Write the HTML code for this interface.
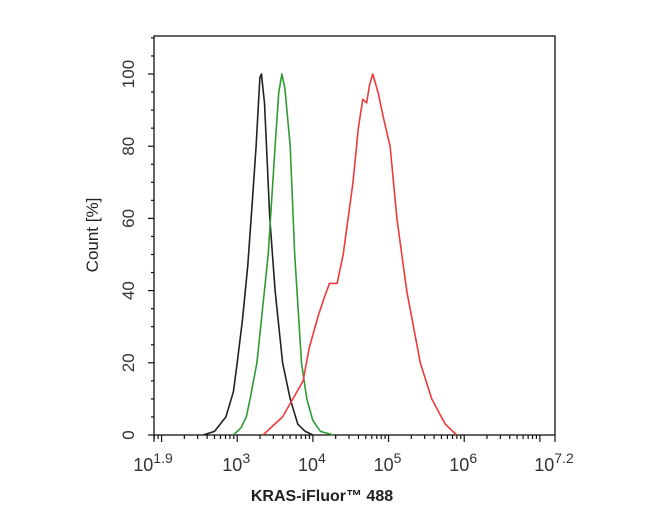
<!DOCTYPE html>
<html><head><meta charset="utf-8"><style>
body{margin:0;background:#fff;}
svg{display:block;font-family:"Liberation Sans",sans-serif;}
</style></head><body>
<svg id="chart" width="650" height="520">
<rect x="154" y="36" width="401" height="399" fill="none" stroke="#111" stroke-width="1.3"/>
<g id="axes"></g>
<g id="series"></g>
<text x="0" y="0" transform="translate(98,235) rotate(-90)" text-anchor="middle" font-size="17" fill="#222">Count [%]</text>
<text x="322" y="501" text-anchor="middle" font-size="16" font-weight="bold" fill="#222">KRAS-iFluor™ 488</text>
</svg>
<script>
const xMin=1.9, xMax=7.2, yMin=0, yMax=110.5;
const yTicks=[0,20,40,60,80,100];
const xTickLabels=[["10","1.9",1.9],["10","3",3],["10","4",4],["10","5",5],["10","6",6],["10","7.2",7.2]];
const blackX=[2.55,2.7,2.85,2.95,3.0,3.07,3.14,3.2,3.25,3.3,3.32,3.36,3.43,3.5,3.6,3.7,3.8,3.9,4.0];
const blackY=[0,1,5,12,20,32,47,65,80,99,100,92,60,40,20,10,3,1,0];
const greenX=[2.95,3.05,3.12,3.17,3.26,3.35,3.41,3.5,3.55,3.59,3.63,3.7,3.76,3.85,3.92,4.0,4.1,4.27];
const greenY=[0,2,5,10,20,38,50,80,95,100,96,80,50,20,10,4,1,0];
const redX=[3.34,3.6,3.87,3.95,4.07,4.15,4.22,4.32,4.4,4.53,4.6,4.66,4.71,4.75,4.79,4.86,4.93,5.02,5.11,5.24,5.42,5.57,5.75,5.9];
const redY=[0,5,15,24,33,38,42,42,50,70,85,93,92,97,100,95,88,80,60,40,20,10,3,0];
const L=154,R=555,T=36,B=435;
const yTop=74;
function sx(v){return L+(v-xMin)/(xMax-xMin)*(R-L);}
function sy(v){return B-(v-yMin)/100*(B-yTop);}
const NS="http://www.w3.org/2000/svg";
const axes=document.getElementById('axes');
function ln(x1,y1,x2,y2,name){const e=document.createElementNS(NS,'line');e.setAttribute('x1',x1);e.setAttribute('y1',y1);e.setAttribute('x2',x2);e.setAttribute('y2',y2);e.setAttribute('stroke','#111');e.setAttribute('stroke-width','1.2');


axes.appendChild(e);}
for(let v=0;v<=110;v+=5){const major=v%20===0&&v<=100;ln(L-(major?6:3),sy(v),L,sy(v),major?'y-major-tick':'y-minor-tick');}
yTicks.forEach(v=>{const t=document.createElementNS(NS,'text');t.setAttribute('transform',`translate(134,${sy(v)}) rotate(-90)`);t.setAttribute('text-anchor','middle');t.setAttribute('font-size','17');t.setAttribute('fill','#333');t.textContent=v;


axes.appendChild(t);});
ln(sx(1.9),B,sx(1.9),B+7,'x-major-tick');ln(sx(7.2),B,sx(7.2),B+7,'x-major-tick');
for(let d=1;d<=7;d++){for(let m=1;m<10;m++){const v=d+Math.log10(m);if(v<xMin-1e-9||v>xMax+1e-9)continue;const major=m===1;ln(sx(v),B,sx(v),B+(major?7:4),major?'x-major-tick':'x-minor-tick');}}
xTickLabels.forEach(a=>{const t=document.createElementNS(NS,'text');t.setAttribute('x',sx(a[2])-1);t.setAttribute('y',471);t.setAttribute('text-anchor','middle');t.setAttribute('font-size','18');t.setAttribute('fill','#333');
t.innerHTML=a[0]+'<tspan dy="-8" font-size="14">'+a[1]+'</tspan>';


axes.appendChild(t);});
const ser=document.getElementById('series');
function draw(xs,ys,color,name){const p=document.createElementNS(NS,'path');p.setAttribute('d',xs.map((x,i)=>(i?'L':'M')+sx(x).toFixed(1)+','+sy(ys[i]).toFixed(1)).join(''));p.setAttribute('fill','none');p.setAttribute('stroke',color);p.setAttribute('stroke-width','1.6');p.setAttribute('stroke-linejoin','round');


ser.appendChild(p);}
draw(blackX,blackY,'#222','isotype-control-curve');
draw(greenX,greenY,'#2e9b33','unstained-curve');
draw(redX,redY,'#ee3a3a','kras-curve');
</script>
</body></html>
